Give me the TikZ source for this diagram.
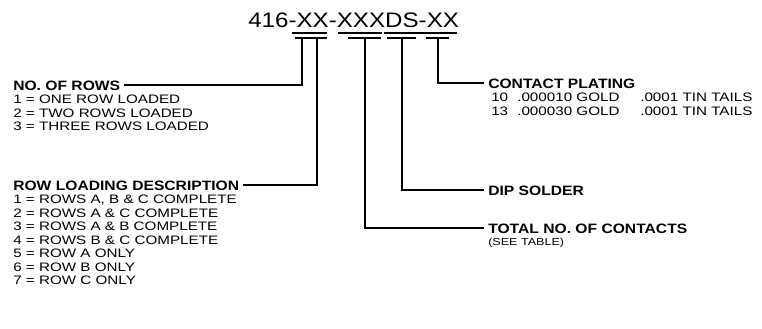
\documentclass[tikz,border=0pt]{standalone}
\usepackage{fontspec}
\setmainfont{Liberation Sans}
\newfontfamily\rfont[FakeStretch=1.24]{Liberation Sans}
\newfontfamily\hfont[FakeStretch=1.15]{Liberation Sans}
\newfontfamily\tfont[FakeStretch=1.15]{Liberation Sans}
\begin{document}
\begin{tikzpicture}[x=0.75pt,y=-0.75pt,
  titletxt/.style={font=\tfont\fontsize{15.75}{18}\selectfont, inner sep=0pt, anchor=base west},
  head/.style={font=\hfont\bfseries\fontsize{10.2}{12}\selectfont, inner xsep=3pt, inner ysep=0pt, anchor=base west},
  item/.style={font=\rfont\fontsize{9.2}{10}\selectfont, inner sep=0pt, anchor=base west},
  small/.style={font=\rfont\fontsize{7.6}{9}\selectfont, inner sep=0pt, anchor=base west},
  conn/.style={line width=1.7pt},
  tee/.style={line width=1.5pt},
  uline/.style={line width=0.8pt}]
\useasboundingbox (0,0) rectangle (762,328);
% title
\node[titletxt] (title) at (248,28) {416-XX-XXXDS-XX};
\draw[uline] (292,33) -- (327,33);
\draw[uline] (338,33) -- (382,33);
\draw[uline] (384,33) -- (457,33);
% tee bars
\draw[tee] (295,38) -- (327,38);
\draw[tee] (348,38) -- (381,38);
\draw[tee] (387,38) -- (416,38);
\draw[tee] (426,38) -- (449,38);
\coordinate (v1) at (302,38);
\coordinate (v2) at (317,38);
\coordinate (v3) at (365,38);
\coordinate (v4) at (402,38);
\coordinate (v5) at (438,38);
% left headers
\node[head] (rows) at (9,90) {NO. OF ROWS};
\node[item] (r1) at (13,103.5) {1 = ONE ROW LOADED};
\node[item] (r2) at (13,117) {2 = TWO ROWS LOADED};
\node[item] (r3) at (13,130.5) {3 = THREE ROWS LOADED};
\node[head] (load) at (9,190) {ROW LOADING DESCRIPTION};
\node[item] (l1) at (13,203.5) {1 = ROWS A, B \& C COMPLETE};
\node[item] (l2) at (13,217) {2 = ROWS A \& C COMPLETE};
\node[item] (l3) at (13,230.5) {3 = ROWS A \& B COMPLETE};
\node[item] (l4) at (13,244) {4 = ROWS B \& C COMPLETE};
\node[item] (l5) at (13,257.5) {5 = ROW A ONLY};
\node[item] (l6) at (13,271) {6 = ROW B ONLY};
\node[item] (l7) at (13,284.5) {7 = ROW C ONLY};
% right headers
\node[head] (plat) at (484,88) {CONTACT PLATING};
\node[item] (p1a) at (491,101.5) {10};
\node[item] (p1b) at (517,101.5) {.000010 GOLD};
\node[item] (p1c) at (640,101.5) {.0001 TIN TAILS};
\node[item] (p2a) at (491,115) {13};
\node[item] (p2b) at (517,115) {.000030 GOLD};
\node[item] (p2c) at (640,115) {.0001 TIN TAILS};
\node[head] (dip) at (484,195) {DIP SOLDER};
\node[head] (total) at (484,233) {TOTAL NO. OF CONTACTS};
\node[small] (see) at (488,245) {(SEE TABLE)};
% connectors
\draw[conn] (v1) |- (rows.east);
\draw[conn] (v2) |- (load.east);
\draw[conn] (v3) |- (total.west);
\draw[conn] (v4) |- (dip.west);
\draw[conn] (v5) |- (plat.west);
\end{tikzpicture}
\end{document}
